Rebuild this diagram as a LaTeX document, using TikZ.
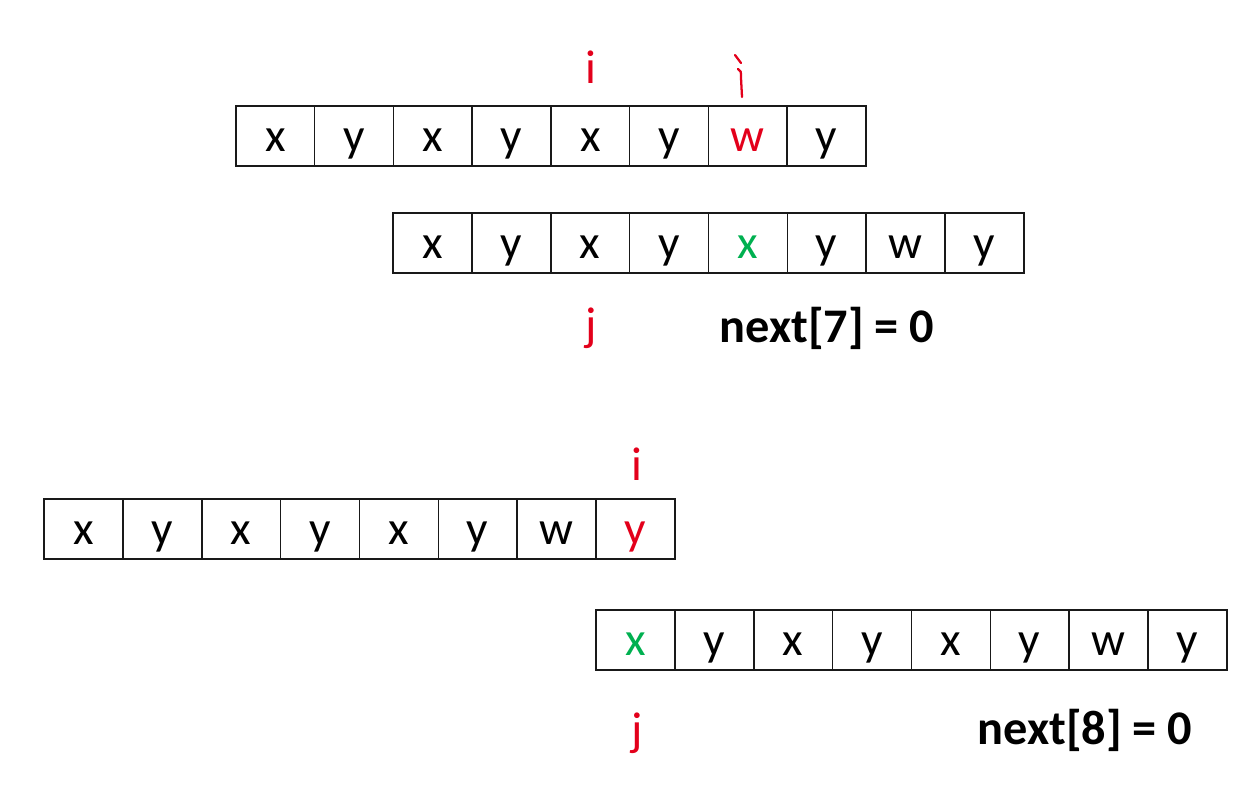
\documentclass[tikz,border=0pt]{standalone}
\usepackage{fontspec}
\setmainfont{Carlito}
\usepackage{tikz}
\usetikzlibrary{positioning}
\definecolor{PtrRed}{HTML}{E3001B}
\definecolor{MatchGreen}{HTML}{00B050}

\begin{document}
\begin{tikzpicture}[x=0.02cm, y=-0.02cm,
    cell/.style={draw=black!90, line width=0.85pt, minimum width=1.576cm, minimum height=1.2cm, inner sep=0pt, outer sep=0pt, text height=19pt, text depth=1pt, font=\fontsize{27}{30}\selectfont},
    ptr/.style={text=PtrRed, font=\fontsize{27}{30}\selectfont, inner sep=0pt},
    result/.style={font=\fontsize{27.5}{32}\selectfont\bfseries, inner sep=0pt}
]
\useasboundingbox (0,0) rectangle (1253,789);

% First pass: text row
\foreach \ch/\col [count=\k] in {x/black,y/black,x/black,y/black,x/black,y/black,w/PtrRed,y/black}
    \node[cell, text=\col] (a\k) at (236+78.75*\k-39.4, 136) {\ch};
% First pass: pattern row
\foreach \ch/\col [count=\k] in {x/black,y/black,x/black,y/black,x/MatchGreen,y/black,w/black,y/black}
    \node[cell, text=\col] (b\k) at (393+78.85*\k-39.4, 243) {\ch};

\node[ptr] (i1) at (591, 67) {i};
\node[ptr] (j1) at (591, 328) {j};
\node[result] (res1) at (827, 328) {next[7] = 0};

% hand-drawn mark above w
\draw[PtrRed, line width=1.3pt, line cap=round] (735,55) -- (741,63);
\draw[PtrRed, line width=1.3pt, line cap=round] (738,69) .. controls (741,71) .. (741,78) -- (742,97);

% Second pass: text row
\foreach \ch/\col [count=\k] in {x/black,y/black,x/black,y/black,x/black,y/black,w/black,y/PtrRed}
    \node[cell, text=\col] (c\k) at (44+78.85*\k-39.4, 529) {\ch};
% Second pass: pattern row
\foreach \ch/\col [count=\k] in {x/MatchGreen,y/black,x/black,y/black,x/black,y/black,w/black,y/black}
    \node[cell, text=\col] (d\k) at (596+78.85*\k-39.4, 640) {\ch};

\node[ptr] (i2) at (637, 464) {i};
\node[ptr] (j2) at (637, 733) {j};
\node[result] (res2) at (1085, 730) {next[8] = 0};

\end{tikzpicture}
\end{document}
